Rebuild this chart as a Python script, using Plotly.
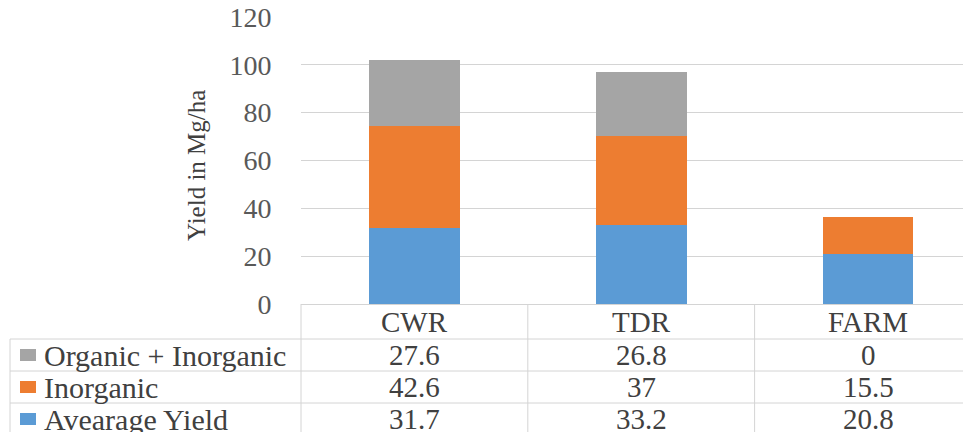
import plotly.graph_objects as go

categories = ["CWR", "TDR", "FARM"]
series_names = ["Avearage Yield", "Inorganic", "Organic + Inorganic"]
avg_yield = [31.7, 33.2, 20.8]
inorganic = [42.6, 37, 15.5]
organic_inorganic = [27.6, 26.8, 0]
series_values = [avg_yield, inorganic, organic_inorganic]
series_colors = ["#5B9BD5", "#ED7D31", "#A5A5A5"]
y_ticks = [0, 20, 40, 60, 80, 100, 120]

# page body has an 8px margin; the figure is placed at (8, 8)
OFF = 8
W, H = 971 - OFF, 432 - OFF
ML, MR, MT, MB = 301 - OFF, 0, 17 - OFF, 128
PW = W - ML - MR
PH = H - MT - MB
BOTTOM = H - MB  # figure coords


def px_x(px):
    """screen pixel x -> paper x"""
    return (px - OFF - ML) / PW


def px_y(py):
    """screen pixel y -> paper y"""
    return (BOTTOM - (py - OFF)) / PH


FONT = "Liberation Serif"
TEXT_COLOR = "#404040"
LINE_COLOR = "#D4D4D4"

xpos = list(range(len(categories)))

fig = go.Figure()
for name, vals, col in zip(series_names, series_values, series_colors):
    fig.add_trace(go.Bar(x=xpos, y=vals, name=name, marker=dict(color=col, line=dict(width=0)),
                         width=0.4, showlegend=False, hoverinfo="x+y+name"))

shapes = []
annotations = []

# table horizontal lines
row_bounds = [339, 371, 403]
for py in row_bounds:
    shapes.append(dict(type="line", xref="paper", yref="paper", x0=px_x(10), x1=1,
                       y0=px_y(py), y1=px_y(py), line=dict(color=LINE_COLOR, width=1)))
# left border of legend column
shapes.append(dict(type="line", xref="paper", yref="paper", x0=px_x(10), x1=px_x(10),
                   y0=px_y(339), y1=px_y(440), line=dict(color=LINE_COLOR, width=1)))
# left border of the data columns
shapes.append(dict(type="line", xref="paper", yref="paper", x0=0, x1=0,
                   y0=0, y1=px_y(440), line=dict(color=LINE_COLOR, width=1)))
# column dividers
for i in range(len(categories) - 1):
    shapes.append(dict(type="line", xref="x", yref="paper", x0=i + 0.5, x1=i + 0.5,
                       y0=0, y1=px_y(440), line=dict(color=LINE_COLOR, width=1)))

# header labels
for i, c in enumerate(categories):
    annotations.append(dict(x=i, y=px_y(321.5), xref="x", yref="paper", text=c, showarrow=False,
                            xanchor="center", yanchor="middle",
                            font=dict(family=FONT, size=29, color=TEXT_COLOR)))

# rows (top row is the top of the stack)
row_centers = [355, 387, 419]
for r, idx in enumerate(reversed(range(len(series_names)))):
    cy = row_centers[r]
    shapes.append(dict(type="rect", xref="paper", yref="paper", x0=px_x(20), x1=px_x(36),
                       y0=px_y(cy + 6), y1=px_y(cy - 6), fillcolor=series_colors[idx],
                       line=dict(width=0)))
    annotations.append(dict(x=px_x(42), y=px_y(cy), xref="paper", yref="paper",
                            text=series_names[idx], showarrow=False, xanchor="left",
                            yanchor="middle", font=dict(family=FONT, size=30, color=TEXT_COLOR)))
    for i, v in enumerate(series_values[idx]):
        annotations.append(dict(x=i, y=px_y(cy), xref="x", yref="paper", text=f"{v:g}",
                                showarrow=False, xanchor="center", yanchor="middle",
                                font=dict(family=FONT, size=29, color=TEXT_COLOR)))

# y axis title
annotations.append(dict(x=px_x(196), y=px_y(166), xref="paper", yref="paper",
                        text="Yield in Mg/ha", textangle=-90, showarrow=False,
                        xanchor="center", yanchor="middle",
                        font=dict(family=FONT, size=25, color=TEXT_COLOR)))

fig.update_layout(
    width=W, height=H,
    margin=dict(l=ML, r=MR, t=MT, b=MB, pad=0, autoexpand=False),
    barmode="stack",
    plot_bgcolor="white", paper_bgcolor="white",
    shapes=shapes, annotations=annotations,
    xaxis=dict(range=[-0.5, 2.454], showticklabels=False, showgrid=False, zeroline=False,
               showline=False, fixedrange=True, automargin=False),
    yaxis=dict(range=[0, 120], tickvals=y_ticks, showgrid=True, gridcolor=LINE_COLOR,
               gridwidth=1, zeroline=True, zerolinecolor=LINE_COLOR, zerolinewidth=1,
               ticks="outside", ticklen=23, tickcolor="rgba(0,0,0,0)",
               ticklabeloverflow="allow", automargin=False,
               tickfont=dict(family=FONT, size=28, color="#595959"), fixedrange=True),
    bargap=0.6,
)

fig.write_html("out.html")
